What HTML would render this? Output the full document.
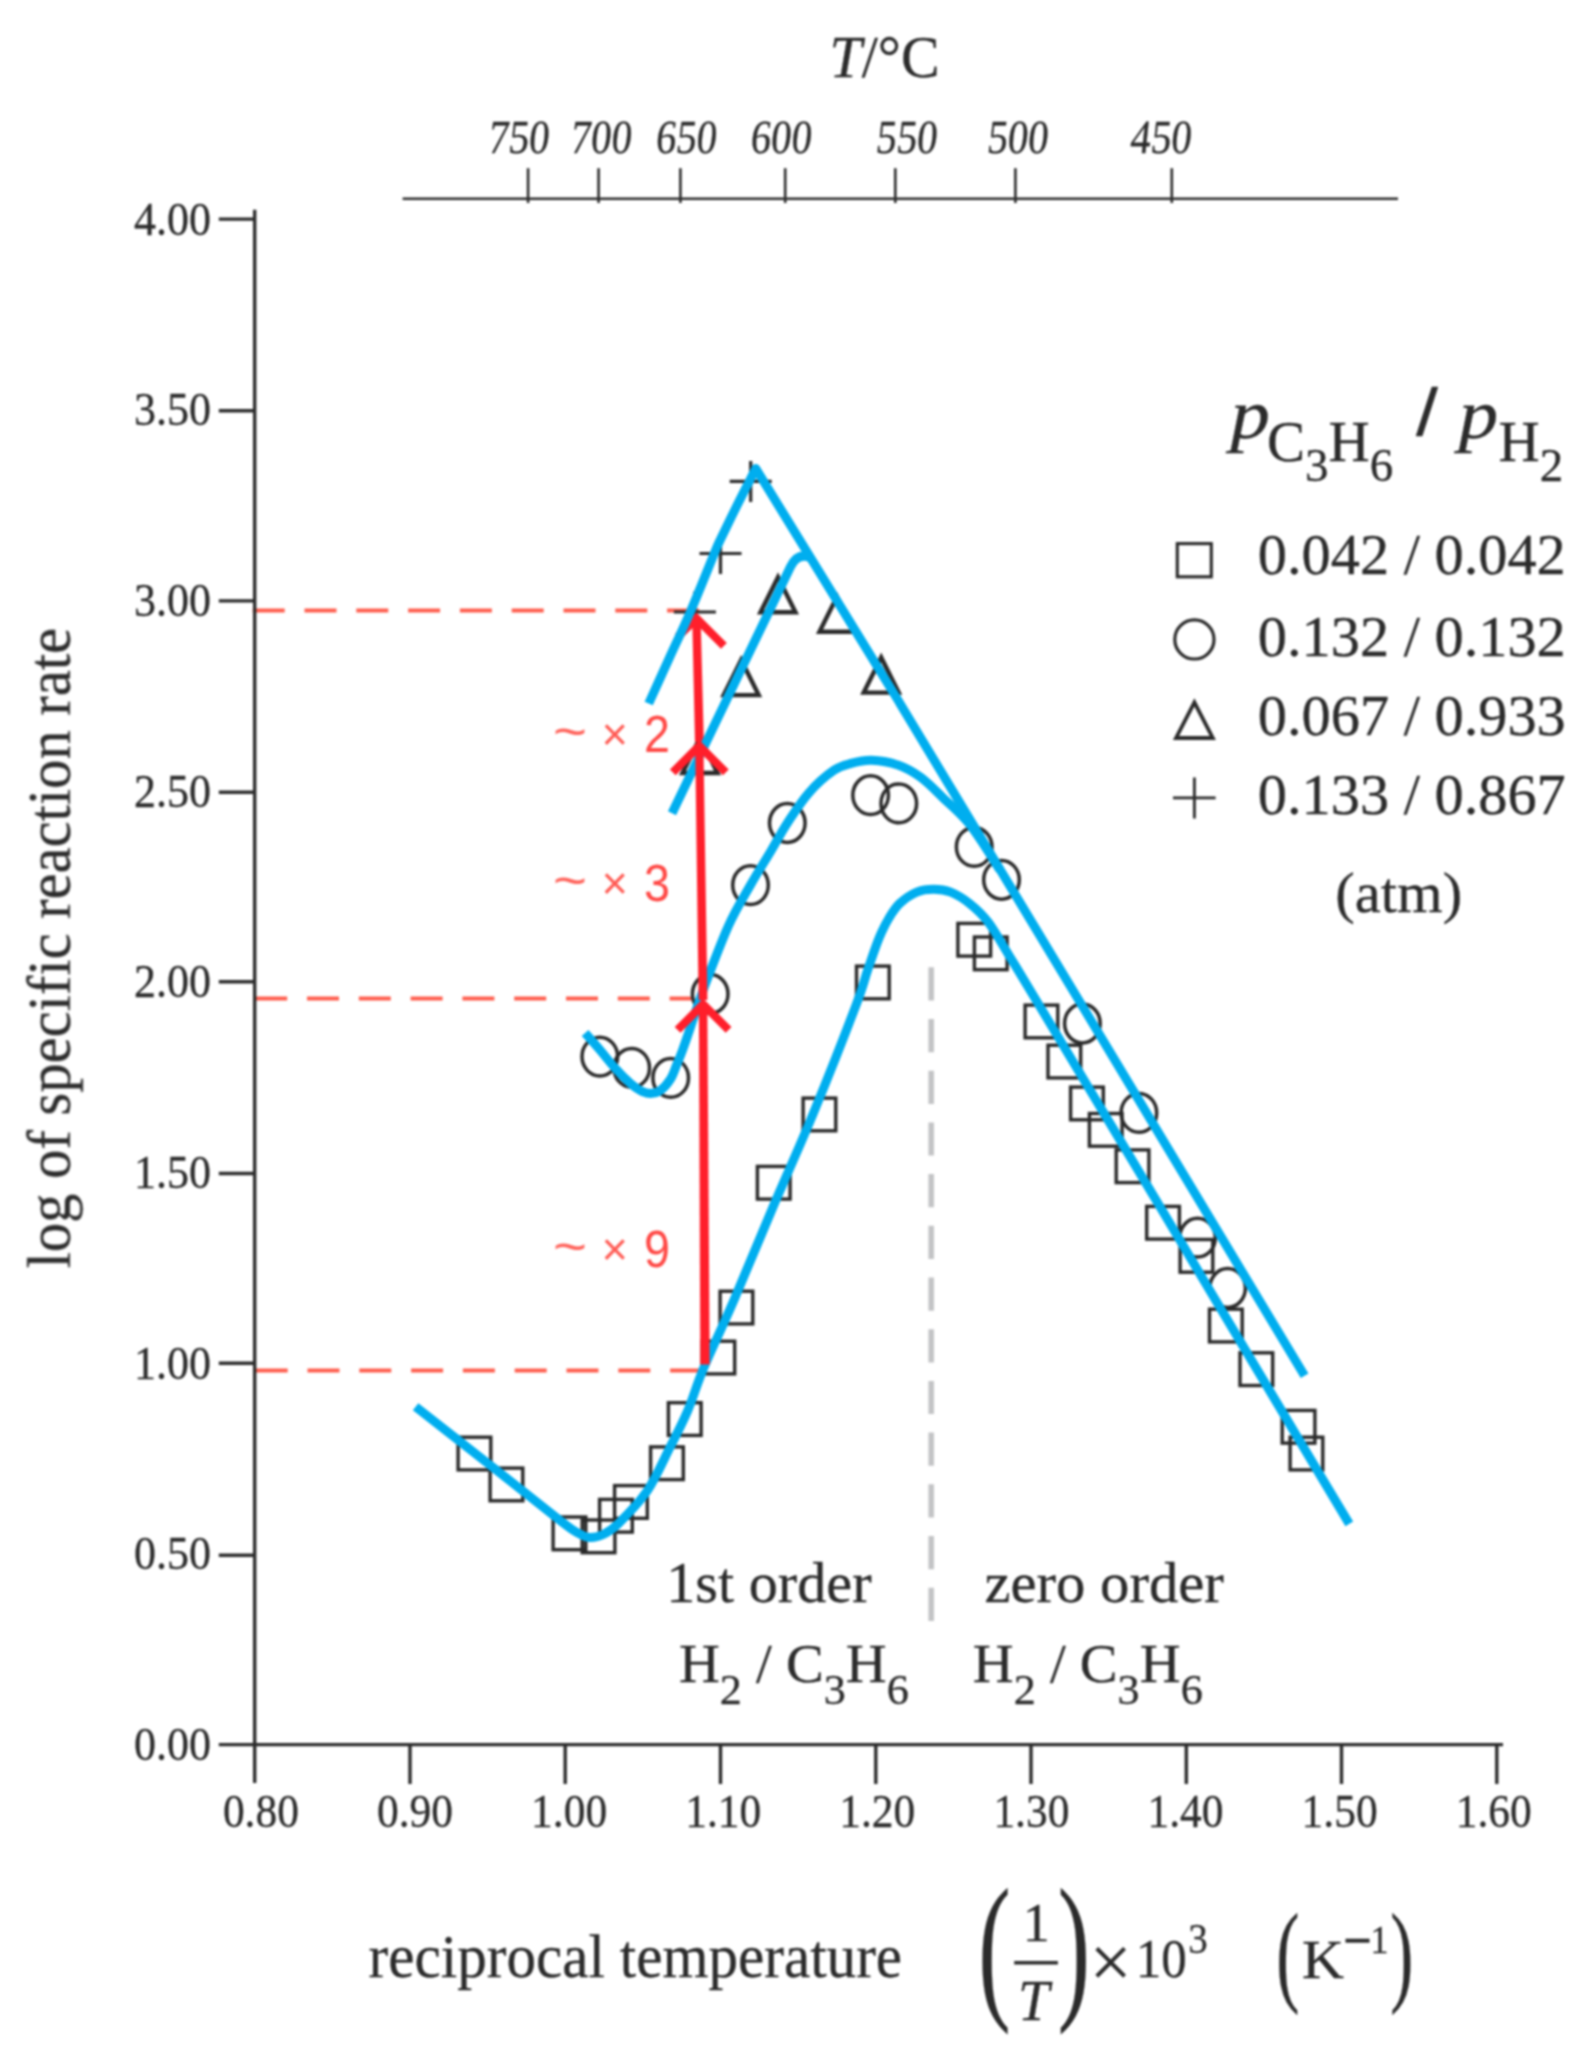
<!DOCTYPE html>
<html lang="en">
<head>
<meta charset="utf-8">
<title>Arrhenius plot</title>
<style>html,body{margin:0;padding:0;background:#fff}svg{display:block}text{stroke-linejoin:round}text[fill="#2b2b2b"]{stroke:#2b2b2b;stroke-width:.3px}</style>
</head>
<body>
<svg width="1593" height="2059" viewBox="0 0 1593 2059">
<rect x="0" y="0" width="1593" height="2059" fill="#ffffff"/>
<defs><filter id="soft" x="0" y="0" width="100%" height="100%" filterUnits="userSpaceOnUse" color-interpolation-filters="sRGB"><feGaussianBlur stdDeviation="1"/></filter></defs>
<g filter="url(#soft)">
<line x1="931.2" y1="967.3" x2="931.2" y2="1621.2" stroke="#c3c4c6" stroke-width="5.6" stroke-dasharray="33.2 18.5"/>
<line x1="252.7" y1="610.5" x2="716" y2="610.5" stroke="#ff5e4e" stroke-width="4.2" stroke-dasharray="32 19.8"/>
<line x1="255.2" y1="998.5" x2="693" y2="998.5" stroke="#ff5e4e" stroke-width="4.2" stroke-dasharray="32 19.8"/>
<line x1="255.7" y1="1370.5" x2="702" y2="1370.5" stroke="#ff5e4e" stroke-width="4.2" stroke-dasharray="32 19.8"/>
<g fill="none" stroke="#2a2a2a" stroke-width="3.4">
<rect x="458.1" y="1437.2" width="32.7" height="32.7"/>
<rect x="490.1" y="1468.1" width="32.7" height="32.7"/>
<rect x="553.1" y="1517.0" width="32.7" height="32.7"/>
<rect x="582.2" y="1520.0" width="32.7" height="32.7"/>
<rect x="599.6" y="1499.4" width="32.7" height="32.7"/>
<rect x="614.6" y="1485.6" width="32.7" height="32.7"/>
<rect x="650.6" y="1446.9" width="32.7" height="32.7"/>
<rect x="668.4" y="1402.7" width="32.7" height="32.7"/>
<rect x="702.0" y="1341.2" width="32.7" height="32.7"/>
<rect x="720.1" y="1291.2" width="32.7" height="32.7"/>
<rect x="757.4" y="1166.4" width="32.7" height="32.7"/>
<rect x="803.1" y="1098.1" width="32.7" height="32.7"/>
<rect x="856.5" y="966.1" width="32.7" height="32.7"/>
<rect x="957.9" y="923.4" width="32.7" height="32.7"/>
<rect x="974.4" y="937.0" width="32.7" height="32.7"/>
<rect x="1025.1" y="1005.1" width="32.7" height="32.7"/>
<rect x="1048.0" y="1045.2" width="32.7" height="32.7"/>
<rect x="1070.6" y="1087.1" width="32.7" height="32.7"/>
<rect x="1089.4" y="1113.5" width="32.7" height="32.7"/>
<rect x="1116.2" y="1149.9" width="32.7" height="32.7"/>
<rect x="1146.7" y="1206.4" width="32.7" height="32.7"/>
<rect x="1180.1" y="1239.5" width="32.7" height="32.7"/>
<rect x="1209.5" y="1309.2" width="32.7" height="32.7"/>
<rect x="1240.0" y="1352.8" width="32.7" height="32.7"/>
<rect x="1282.2" y="1410.4" width="32.7" height="32.7"/>
<rect x="1290.1" y="1437.2" width="32.7" height="32.7"/>
<ellipse cx="599.8" cy="1056.6" rx="17.8" ry="19.4" stroke-width="3.5"/>
<ellipse cx="631.7" cy="1067.9" rx="17.8" ry="19.4" stroke-width="3.5"/>
<ellipse cx="670.7" cy="1077.9" rx="17.8" ry="19.4" stroke-width="3.5"/>
<ellipse cx="710.2" cy="994" rx="17.8" ry="19.4" stroke-width="3.5"/>
<ellipse cx="750.5" cy="885.1" rx="17.8" ry="19.4" stroke-width="3.5"/>
<ellipse cx="787.3" cy="823" rx="17.8" ry="19.4" stroke-width="3.5"/>
<ellipse cx="870.6" cy="795.2" rx="17.8" ry="19.4" stroke-width="3.5"/>
<ellipse cx="898.8" cy="803.4" rx="17.8" ry="19.4" stroke-width="3.5"/>
<ellipse cx="974.2" cy="846.9" rx="17.8" ry="19.4" stroke-width="3.5"/>
<ellipse cx="1001.5" cy="879.8" rx="17.8" ry="19.4" stroke-width="3.5"/>
<ellipse cx="1082.4" cy="1023.5" rx="17.8" ry="19.4" stroke-width="3.5"/>
<ellipse cx="1138.9" cy="1112.9" rx="17.8" ry="19.4" stroke-width="3.5"/>
<ellipse cx="1197.5" cy="1237.7" rx="17.8" ry="19.4" stroke-width="3.5"/>
<ellipse cx="1227.6" cy="1288" rx="17.8" ry="19.4" stroke-width="3.5"/>
</g>
<g fill="none" stroke="#2a2a2a" stroke-width="4.4" stroke-linejoin="miter">
<path d="M760.5 612.3 L778.0 577.1 L795.5 612.3 Z"/>
<path d="M819.5 631.8 L837.0 596.6 L854.5 631.8 Z"/>
<path d="M863.7 692.6 L881.2 657.4 L898.7 692.6 Z"/>
<path d="M723.7 695.1 L741.2 659.9 L758.7 695.1 Z"/>
<path d="M682.5 773.0 L700.0 737.8 L717.5 773.0 Z"/>
</g>
<g fill="none" stroke="#2a2a2a" stroke-width="3.2">
<path d="M729.7 481.4 H771.7 M750.7 460.9 V501.9"/>
<path d="M699.5 553.5 H741.5 M720.5 533.0 V574.0"/>
<path d="M673.9 612.0 H715.9 M694.9 591.5 V632.5"/>
</g>
<path d="M695.0 742 L703.8 742 L700.6 616.8 L692.2 616.8 Z" fill="#ff1f2b"/>
<path d="M677.9 636.8 L696.4 618.3 L723.9 645.8" fill="none" stroke="#ff1f2b" stroke-width="8.2" stroke-linejoin="miter" stroke-linecap="butt"/>
<g fill="none" stroke="#00aeef" stroke-width="9" stroke-linejoin="round" stroke-linecap="butt">
<path d="M648.7 703.5 C652.2 695.9 662.5 672.9 669.5 657.6 C676.5 642.3 682.9 629.1 690.4 611.7 C697.9 594.4 709.3 565.5 714.3 553.5 C719.3 541.5 716.3 548.2 720.2 540.0 C724.1 531.8 731.6 516.4 737.5 504.5 C743.4 492.6 752.8 474.6 755.8 468.6 L897.9 700 L1078.7 1000 L1304.6 1375.8"/>
<path d="M672 813.3 L790.5 566.8 Q797.5 552.5 810 557.5"/>
<path d="M585.1 1033.1 C587.6 1035.9 595.1 1044.3 600.1 1050.2 C605.1 1056.1 610.2 1062.8 615.2 1068.3 C620.2 1073.8 626.1 1079.7 630.3 1083.4 C634.5 1087.1 636.9 1088.7 640.3 1090.4 C643.6 1092.1 647.0 1093.4 650.4 1093.4 C653.8 1093.4 657.1 1092.8 660.4 1090.4 C663.7 1088.1 667.7 1083.5 670.4 1079.3 C673.1 1075.1 674.5 1070.1 676.5 1065.3 C678.5 1060.5 680.5 1055.6 682.5 1050.2 C684.5 1044.8 686.5 1038.9 688.5 1033.1 C690.5 1027.2 691.8 1022.9 694.5 1015.1 C697.2 1007.3 699.0 1001.1 704.6 986.2 C710.2 971.4 720.8 942.9 728.4 926.0 C736.0 909.1 743.4 897.5 750.5 885.0 C757.6 872.5 765.0 861.0 771.1 850.7 C777.2 840.4 781.1 832.6 787.4 823.0 C793.7 813.4 801.0 801.7 808.8 792.9 C816.5 784.1 826.7 775.2 833.9 770.3 C841.1 765.3 845.7 764.9 852.0 763.2 C858.3 761.5 863.9 760.0 871.5 760.3 C879.1 760.6 889.7 762.2 897.9 765.0 C906.1 767.8 913.0 771.7 920.5 777.2 C928.0 782.7 934.9 790.0 943.1 797.9 C951.3 805.8 960.0 812.3 969.5 824.3 C979.0 836.3 994.9 862.4 1000.0 870.0"/>
<path d="M415.6 1406.7 C429.7 1417.8 476.2 1454.2 500.4 1473.3 C524.6 1492.3 547.9 1511.1 560.7 1521.0 C573.5 1530.9 572.2 1529.8 577.0 1532.5 C581.8 1535.2 585.3 1537.2 589.6 1537.5 C593.9 1537.8 598.2 1536.8 603.0 1534.5 C607.8 1532.2 611.1 1530.8 618.5 1523.5 C625.9 1516.2 638.8 1503.4 647.3 1490.8 C655.8 1478.2 662.9 1461.5 669.6 1448.1 C676.4 1434.7 682.1 1423.9 687.8 1410.5 C693.5 1397.1 696.1 1386.2 703.8 1367.8 C711.5 1349.4 722.5 1326.8 734.0 1300.0 C745.5 1273.2 759.8 1238.1 773.0 1207.0 C786.2 1175.9 799.5 1147.0 813.3 1113.4 C827.1 1079.8 846.8 1029.6 855.9 1005.5 C865.0 981.4 864.1 980.2 868.0 969.0 C871.9 957.8 875.6 946.5 879.1 938.0 C882.6 929.5 885.5 923.8 889.0 918.0 C892.5 912.2 895.2 907.7 899.8 903.4 C904.4 899.1 911.1 894.5 916.8 892.1 C922.4 889.8 928.1 889.3 933.7 889.3 C939.4 889.3 944.7 889.8 950.7 892.1 C956.7 894.5 963.2 898.4 969.5 903.4 C975.8 908.4 981.5 913.3 988.3 922.2 C995.0 931.1 1002.0 944.0 1010.0 957.0 C1018.0 970.0 1021.7 976.2 1036.0 1000.0 C1050.3 1023.8 1076.0 1066.7 1096.0 1100.0 C1116.0 1133.3 1136.1 1166.7 1156.0 1200.0 C1175.9 1233.3 1183.3 1246.0 1215.5 1300.0 C1247.7 1354.0 1327.0 1486.6 1349.3 1523.9"/>
</g>
<path d="M698.6 1000 L707.4 1000 L703.4 744.3 L695.2 744.3 Z" fill="#ff1f2b"/>
<path d="M672.8 772.3 L699.3 745.8 L725.8 772.3" fill="none" stroke="#ff1f2b" stroke-width="8.2" stroke-linejoin="miter" stroke-linecap="butt"/>
<path d="M700.3 1364.6 L709.7 1364.6 L707.3 1002.8 L698.9 1002.8 Z" fill="#ff1f2b"/>
<path d="M677.6 1029.8 L703.1 1004.3 L728.6 1029.8" fill="none" stroke="#ff1f2b" stroke-width="8.2" stroke-linejoin="miter" stroke-linecap="butt"/>
<text x="553" y="748.5" font-size="52" fill="#ff645c" font-family='"Liberation Sans", "DejaVu Sans", sans-serif' font-weight="200" textLength="34" lengthAdjust="spacingAndGlyphs">~</text>
<text x="601.5" y="750.0" font-size="46" fill="#ff5c55" font-family='"Liberation Sans", "DejaVu Sans", sans-serif' font-weight="200" textLength="26.5" lengthAdjust="spacingAndGlyphs">×</text>
<text x="644" y="751.5" font-size="51" fill="#ff4845" font-family='"Liberation Sans", "DejaVu Sans", sans-serif' font-weight="200" textLength="26" lengthAdjust="spacingAndGlyphs">2</text>
<text x="553" y="897.9" font-size="52" fill="#ff645c" font-family='"Liberation Sans", "DejaVu Sans", sans-serif' font-weight="200" textLength="34" lengthAdjust="spacingAndGlyphs">~</text>
<text x="601.5" y="899.4" font-size="46" fill="#ff5c55" font-family='"Liberation Sans", "DejaVu Sans", sans-serif' font-weight="200" textLength="26.5" lengthAdjust="spacingAndGlyphs">×</text>
<text x="644" y="900.9" font-size="51" fill="#ff4845" font-family='"Liberation Sans", "DejaVu Sans", sans-serif' font-weight="200" textLength="26" lengthAdjust="spacingAndGlyphs">3</text>
<text x="553" y="1263.6" font-size="52" fill="#ff645c" font-family='"Liberation Sans", "DejaVu Sans", sans-serif' font-weight="200" textLength="34" lengthAdjust="spacingAndGlyphs">~</text>
<text x="601.5" y="1265.1" font-size="46" fill="#ff5c55" font-family='"Liberation Sans", "DejaVu Sans", sans-serif' font-weight="200" textLength="26.5" lengthAdjust="spacingAndGlyphs">×</text>
<text x="644" y="1266.6" font-size="51" fill="#ff4845" font-family='"Liberation Sans", "DejaVu Sans", sans-serif' font-weight="200" textLength="26" lengthAdjust="spacingAndGlyphs">9</text>
<g fill="none" stroke="#2b2b2b" stroke-width="3.4">
<path d="M254.7 209.7 V1783"/>
<path d="M218.8 1744.6 H1503"/>
<path d="M218.8 219.1 H254.7"/>
<path d="M218.8 410.8 H254.7"/>
<path d="M218.8 600.9 H254.7"/>
<path d="M218.8 792.3 H254.7"/>
<path d="M218.8 981.8 H254.7"/>
<path d="M218.8 1173.5 H254.7"/>
<path d="M218.8 1363.3 H254.7"/>
<path d="M218.8 1555.3 H254.7"/>
<path d="M410.0 1744.6 V1784"/>
<path d="M565.2 1744.6 V1784"/>
<path d="M720.5 1744.6 V1784"/>
<path d="M875.8 1744.6 V1784"/>
<path d="M1031.0 1744.6 V1784"/>
<path d="M1186.3 1744.6 V1784"/>
<path d="M1341.5 1744.6 V1784"/>
<path d="M1496.8 1744.6 V1784"/>
</g>
<g fill="none" stroke="#2b2b2b" stroke-width="2.6">
<path d="M402.6 198.8 H1398"/>
<path d="M528.1 168.2 V203"/>
<path d="M598.6 168.2 V203"/>
<path d="M680.4 168.2 V203"/>
<path d="M785.2 168.2 V203"/>
<path d="M895.3 168.2 V203"/>
<path d="M1015.4 168.2 V203"/>
<path d="M1171.8 168.2 V203"/>
</g>
<text x="211" y="234.5" font-size="46" text-anchor="end" fill="#2b2b2b" font-family='"Liberation Serif", "DejaVu Serif", serif' textLength="77" lengthAdjust="spacingAndGlyphs">4.00</text>
<text x="211" y="425.2" font-size="46" text-anchor="end" fill="#2b2b2b" font-family='"Liberation Serif", "DejaVu Serif", serif' textLength="77" lengthAdjust="spacingAndGlyphs">3.50</text>
<text x="211" y="615.9" font-size="46" text-anchor="end" fill="#2b2b2b" font-family='"Liberation Serif", "DejaVu Serif", serif' textLength="77" lengthAdjust="spacingAndGlyphs">3.00</text>
<text x="211" y="806.6" font-size="46" text-anchor="end" fill="#2b2b2b" font-family='"Liberation Serif", "DejaVu Serif", serif' textLength="77" lengthAdjust="spacingAndGlyphs">2.50</text>
<text x="211" y="997.2" font-size="46" text-anchor="end" fill="#2b2b2b" font-family='"Liberation Serif", "DejaVu Serif", serif' textLength="77" lengthAdjust="spacingAndGlyphs">2.00</text>
<text x="211" y="1187.9" font-size="46" text-anchor="end" fill="#2b2b2b" font-family='"Liberation Serif", "DejaVu Serif", serif' textLength="77" lengthAdjust="spacingAndGlyphs">1.50</text>
<text x="211" y="1378.6" font-size="46" text-anchor="end" fill="#2b2b2b" font-family='"Liberation Serif", "DejaVu Serif", serif' textLength="77" lengthAdjust="spacingAndGlyphs">1.00</text>
<text x="211" y="1569.3" font-size="46" text-anchor="end" fill="#2b2b2b" font-family='"Liberation Serif", "DejaVu Serif", serif' textLength="77" lengthAdjust="spacingAndGlyphs">0.50</text>
<text x="211" y="1760.0" font-size="46" text-anchor="end" fill="#2b2b2b" font-family='"Liberation Serif", "DejaVu Serif", serif' textLength="77" lengthAdjust="spacingAndGlyphs">0.00</text>
<text x="260.9" y="1827.4" font-size="46" text-anchor="middle" fill="#2b2b2b" font-family='"Liberation Serif", "DejaVu Serif", serif' textLength="76" lengthAdjust="spacingAndGlyphs">0.80</text>
<text x="415.0" y="1827.4" font-size="46" text-anchor="middle" fill="#2b2b2b" font-family='"Liberation Serif", "DejaVu Serif", serif' textLength="76" lengthAdjust="spacingAndGlyphs">0.90</text>
<text x="569.1" y="1827.4" font-size="46" text-anchor="middle" fill="#2b2b2b" font-family='"Liberation Serif", "DejaVu Serif", serif' textLength="76" lengthAdjust="spacingAndGlyphs">1.00</text>
<text x="723.2" y="1827.4" font-size="46" text-anchor="middle" fill="#2b2b2b" font-family='"Liberation Serif", "DejaVu Serif", serif' textLength="76" lengthAdjust="spacingAndGlyphs">1.10</text>
<text x="877.3" y="1827.4" font-size="46" text-anchor="middle" fill="#2b2b2b" font-family='"Liberation Serif", "DejaVu Serif", serif' textLength="76" lengthAdjust="spacingAndGlyphs">1.20</text>
<text x="1031.4" y="1827.4" font-size="46" text-anchor="middle" fill="#2b2b2b" font-family='"Liberation Serif", "DejaVu Serif", serif' textLength="76" lengthAdjust="spacingAndGlyphs">1.30</text>
<text x="1185.5" y="1827.4" font-size="46" text-anchor="middle" fill="#2b2b2b" font-family='"Liberation Serif", "DejaVu Serif", serif' textLength="76" lengthAdjust="spacingAndGlyphs">1.40</text>
<text x="1339.6" y="1827.4" font-size="46" text-anchor="middle" fill="#2b2b2b" font-family='"Liberation Serif", "DejaVu Serif", serif' textLength="76" lengthAdjust="spacingAndGlyphs">1.50</text>
<text x="1493.7" y="1827.4" font-size="46" text-anchor="middle" fill="#2b2b2b" font-family='"Liberation Serif", "DejaVu Serif", serif' textLength="76" lengthAdjust="spacingAndGlyphs">1.60</text>
<text transform="translate(517.7 152.6) skewX(-6)" x="0" y="0" font-size="47.5" text-anchor="middle" fill="#2b2b2b" font-family='"Liberation Serif", "DejaVu Serif", serif' textLength="61" lengthAdjust="spacingAndGlyphs">750</text>
<text transform="translate(600 152.6) skewX(-6)" x="0" y="0" font-size="47.5" text-anchor="middle" fill="#2b2b2b" font-family='"Liberation Serif", "DejaVu Serif", serif' textLength="61" lengthAdjust="spacingAndGlyphs">700</text>
<text transform="translate(685.2 152.6) skewX(-6)" x="0" y="0" font-size="47.5" text-anchor="middle" fill="#2b2b2b" font-family='"Liberation Serif", "DejaVu Serif", serif' textLength="61" lengthAdjust="spacingAndGlyphs">650</text>
<text transform="translate(780 152.6) skewX(-6)" x="0" y="0" font-size="47.5" text-anchor="middle" fill="#2b2b2b" font-family='"Liberation Serif", "DejaVu Serif", serif' textLength="61" lengthAdjust="spacingAndGlyphs">600</text>
<text transform="translate(905.6 152.6) skewX(-6)" x="0" y="0" font-size="47.5" text-anchor="middle" fill="#2b2b2b" font-family='"Liberation Serif", "DejaVu Serif", serif' textLength="61" lengthAdjust="spacingAndGlyphs">550</text>
<text transform="translate(1016.7 152.6) skewX(-6)" x="0" y="0" font-size="47.5" text-anchor="middle" fill="#2b2b2b" font-family='"Liberation Serif", "DejaVu Serif", serif' textLength="61" lengthAdjust="spacingAndGlyphs">500</text>
<text transform="translate(1159.8 152.6) skewX(-6)" x="0" y="0" font-size="47.5" text-anchor="middle" fill="#2b2b2b" font-family='"Liberation Serif", "DejaVu Serif", serif' textLength="61" lengthAdjust="spacingAndGlyphs">450</text>
<text x="829.5" y="76.8" font-size="59" fill="#2b2b2b" font-family='"Liberation Serif", "DejaVu Serif", serif' textLength="110" lengthAdjust="spacingAndGlyphs"><tspan font-style="italic">T</tspan>/°C</text>
<text transform="translate(69.7 1268.4) rotate(-90)" font-size="61" fill="#2b2b2b" font-family='"Liberation Serif", "DejaVu Serif", serif' textLength="640.5" lengthAdjust="spacingAndGlyphs">log of specific reaction rate</text>
<text x="368.6" y="1977" font-size="61" text-anchor="start" fill="#2b2b2b" font-family='"Liberation Serif", "DejaVu Serif", serif' textLength="533.5" lengthAdjust="spacingAndGlyphs">reciprocal temperature</text>
<text transform="translate(978.32 2000.3) scale(0.6 1)" x="0" y="0" font-size="162" fill="#2b2b2b" font-family='"Liberation Serif", "DejaVu Serif", serif' >(</text>
<text transform="translate(1057.79 2000.3) scale(0.6 1)" x="0" y="0" font-size="162" fill="#2b2b2b" font-family='"Liberation Serif", "DejaVu Serif", serif' >)</text>
<text x="1036.2" y="1940.8" font-size="54" text-anchor="middle" fill="#2b2b2b" font-family='"Liberation Serif", "DejaVu Serif", serif'>1</text>
<line x1="1014.2" y1="1962.8" x2="1057.9" y2="1962.8" stroke="#2b2b2b" stroke-width="3.6"/>
<text x="1033.5" y="2020" font-size="56" text-anchor="middle" fill="#2b2b2b" font-family='"Liberation Serif", "DejaVu Serif", serif' font-style="italic">T</text>
<text transform="translate(1089.75 1986.7) scale(1.0 1)" x="0" y="0" font-size="74" fill="#2b2b2b" font-family='"Liberation Serif", "DejaVu Serif", serif' >×</text>
<text x="1135.7" y="1977" font-size="54" text-anchor="start" fill="#2b2b2b" font-family='"Liberation Serif", "DejaVu Serif", serif' textLength="51" lengthAdjust="spacingAndGlyphs">10</text>
<text x="1188.3" y="1952.9" font-size="43" text-anchor="start" fill="#2b2b2b" font-family='"Liberation Serif", "DejaVu Serif", serif' textLength="19.5" lengthAdjust="spacingAndGlyphs">3</text>
<text transform="translate(1276.34 1990.5) scale(0.62 1)" x="0" y="0" font-size="112" fill="#2b2b2b" font-family='"Liberation Serif", "DejaVu Serif", serif' >(</text>
<text transform="translate(1390.18 1990.5) scale(0.62 1)" x="0" y="0" font-size="112" fill="#2b2b2b" font-family='"Liberation Serif", "DejaVu Serif", serif' >)</text>
<text x="1302" y="1977.6" font-size="55" text-anchor="start" fill="#2b2b2b" font-family='"Liberation Serif", "DejaVu Serif", serif' textLength="42" lengthAdjust="spacingAndGlyphs">K</text>
<text x="1343" y="1957.5" font-size="52" text-anchor="start" fill="#2b2b2b" font-family='"Liberation Serif", "DejaVu Serif", serif' textLength="29" lengthAdjust="spacingAndGlyphs" font-weight="bold" stroke="#2b2b2b" stroke-width="1.6">−</text>
<text x="1370.6" y="1952.9" font-size="41" text-anchor="start" fill="#2b2b2b" font-family='"Liberation Serif", "DejaVu Serif", serif' textLength="18" lengthAdjust="spacingAndGlyphs">1</text>
<text x="666.2" y="1602.3" font-size="58" text-anchor="start" fill="#2b2b2b" font-family='"Liberation Serif", "DejaVu Serif", serif' textLength="205.4" lengthAdjust="spacingAndGlyphs">1st order</text>
<text x="984.5" y="1602.3" font-size="58" text-anchor="start" fill="#2b2b2b" font-family='"Liberation Serif", "DejaVu Serif", serif' textLength="239.4" lengthAdjust="spacingAndGlyphs">zero order</text>
<text x="678.9" y="1682.1" font-size="55" fill="#2b2b2b" font-family='"Liberation Serif", "DejaVu Serif", serif' textLength="230" lengthAdjust="spacingAndGlyphs">H<tspan font-size="43" dy="21.4">2</tspan><tspan dy="-21.4"> / C</tspan><tspan font-size="43" dy="21.4">3</tspan><tspan dy="-21.4">H</tspan><tspan font-size="43" dy="21.4">6</tspan></text>
<text x="972.8" y="1682.1" font-size="55" fill="#2b2b2b" font-family='"Liberation Serif", "DejaVu Serif", serif' textLength="230" lengthAdjust="spacingAndGlyphs">H<tspan font-size="43" dy="21.4">2</tspan><tspan dy="-21.4"> / C</tspan><tspan font-size="43" dy="21.4">3</tspan><tspan dy="-21.4">H</tspan><tspan font-size="43" dy="21.4">6</tspan></text>
<text transform="translate(1230.6 437.8) scale(1.13 1)" x="0" y="0" font-size="70" fill="#2b2b2b" font-family='"Liberation Serif", "DejaVu Serif", serif' font-style="italic">p</text>
<text x="1267" y="461.3" font-size="57" fill="#2b2b2b" font-family='"Liberation Serif", "DejaVu Serif", serif'>C<tspan font-size="47" dy="19.7">3</tspan><tspan dy="-19.7">H</tspan><tspan font-size="47" dy="19.7">6</tspan></text>
<text transform="translate(1415.9 435.3) scale(1.18 1)" x="0" y="0" font-size="67" fill="#2b2b2b" font-family='"Liberation Sans", "DejaVu Sans", sans-serif'>/</text>
<text transform="translate(1458.8 437.8) scale(1.13 1)" x="0" y="0" font-size="70" fill="#2b2b2b" font-family='"Liberation Serif", "DejaVu Serif", serif' font-style="italic">p</text>
<text x="1498.5" y="461.3" font-size="57" fill="#2b2b2b" font-family='"Liberation Serif", "DejaVu Serif", serif'>H<tspan font-size="47" dy="19.7">2</tspan></text>
<text x="1257.8" y="573.5" font-size="58" text-anchor="start" fill="#2b2b2b" font-family='"Liberation Serif", "DejaVu Serif", serif' textLength="308" lengthAdjust="spacingAndGlyphs">0.042 / 0.042</text>
<text x="1257.8" y="655.5" font-size="58" text-anchor="start" fill="#2b2b2b" font-family='"Liberation Serif", "DejaVu Serif", serif' textLength="308" lengthAdjust="spacingAndGlyphs">0.132 / 0.132</text>
<text x="1257.8" y="735.3" font-size="58" text-anchor="start" fill="#2b2b2b" font-family='"Liberation Serif", "DejaVu Serif", serif' textLength="308" lengthAdjust="spacingAndGlyphs">0.067 / 0.933</text>
<text x="1257.8" y="814.3" font-size="58" text-anchor="start" fill="#2b2b2b" font-family='"Liberation Serif", "DejaVu Serif", serif' textLength="308" lengthAdjust="spacingAndGlyphs">0.133 / 0.867</text>
<text x="1335.2" y="911.7" font-size="58" text-anchor="start" fill="#2b2b2b" font-family='"Liberation Serif", "DejaVu Serif", serif' textLength="127" lengthAdjust="spacingAndGlyphs">(atm)</text>
<g fill="none" stroke="#2a2a2a">
<rect x="1177.3" y="543.6" width="34" height="33.2" stroke-width="3.1"/>
<circle cx="1194.4" cy="639.4" r="19.6" stroke-width="3.2"/>
<path d="M1176 738 L1194.4 702.5 L1212.8 738 Z" stroke-width="3.8"/>
<path d="M1173 797.8 H1215.6 M1194.4 777.5 V818.5" stroke-width="2.8"/>
</g>
</g>
</svg>
</body>
</html>
